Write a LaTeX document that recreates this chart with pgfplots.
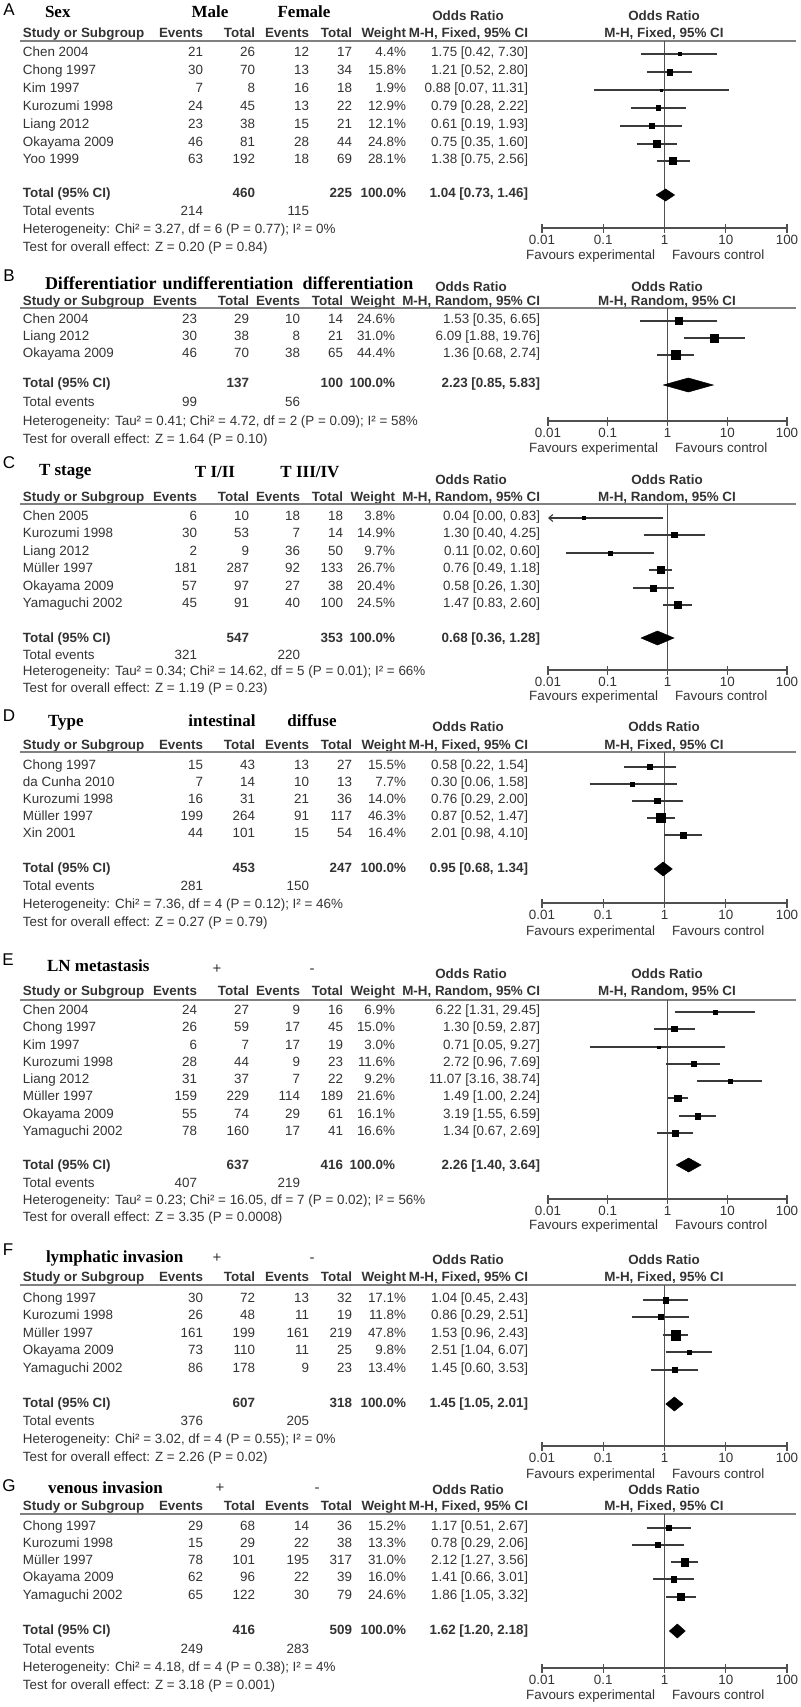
\documentclass[border=0pt]{standalone}
\usepackage{fontspec}
\setmainfont{Liberation Sans}
\newfontfamily\tnr{Liberation Serif}
\usepackage{pgfplots}
\pgfplotsset{compat=1.18}
\usetikzlibrary{arrows.meta}

\definecolor{txt}{HTML}{333333}
\definecolor{hlinec}{HTML}{808080}
\definecolor{cicol}{HTML}{3A3A3A}
\definecolor{axgray}{HTML}{505050}

\newcommand{\bodyfont}{\fontsize{13.4}{16}\selectfont}
\newcommand{\titlefont}{\tnr\bfseries\fontsize{17}{20}\selectfont\color{black}}
\newcommand{\titlefontB}{\tnr\bfseries\fontsize{18}{21}\selectfont\color{black}}

\newcommand{\TL}[3]{\node[anchor=mid west] at (#1pt,-#2pt) {#3};}
\newcommand{\TR}[3]{\node[anchor=mid east] at (#1pt,-#2pt) {#3};}
\newcommand{\TC}[3]{\node[anchor=mid] at (#1pt,-#2pt) {#3};}
\newcommand{\LET}[3]{\node[anchor=mid,text=black,font=\fontsize{17}{20}\selectfont] at (#1pt,-#2pt) {#3};}

\newcommand{\Row}[8]{\TL{23}{#1}{#2}\TR{\cEa}{#1}{#3}\TR{\cTa}{#1}{#4}\TR{\cEb}{#1}{#5}\TR{\cTb}{#1}{#6}\TR{\cW}{#1}{#7}\TR{\cOR}{#1}{#8}}
\newcommand{\Header}[3]{\TL{23}{#1}{\bfseries Study or Subgroup}\TR{\cEa}{#1}{\bfseries Events}\TR{\cTa}{#1}{\bfseries Total}\TR{\cEb}{#1}{\bfseries Events}\TR{\cTb}{#1}{\bfseries Total}\TR{\cW}{#1}{\bfseries Weight}\TR{\cOR}{#1}{\bfseries #2}\TC{#3}{#1}{\bfseries #2}}
\newcommand{\TotalRow}[4]{\TL{23}{#1}{\bfseries Total (95\% CI)}\TR{\cTa}{#1}{\bfseries #2}\TR{\cTb}{#1}{\bfseries #3}\TR{\cW}{#1}{\bfseries 100.0\%}\TR{\cOR}{#1}{\bfseries #4}}
\newcommand{\TotEv}[3]{\TL{23}{#1}{Total events}\TR{\cEa}{#1}{#2}\TR{\cEb}{#1}{#3}}
\newcommand{\HLine}[1]{\draw[hlinec, line width=1.8pt] (20pt,-#1pt) -- (796pt,-#1pt);}
\newcommand{\FixedCols}{\def\cEa{203}\def\cTa{255}\def\cEb{309}\def\cTb{352}\def\cW{406}\def\cOR{528}}
\newcommand{\RandomCols}{\def\cEa{197}\def\cTa{249}\def\cEb{300}\def\cTb{343}\def\cW{395}\def\cOR{540}}

\pgfplotsset{
 myforest/.style={
  scale only axis, anchor=south west, clip=false,
  xmin=0.01, xmax=100,
  axis x line=bottom, axis y line=none,
  x axis line style={-, draw=axgray, line width=1.1pt},
  xtick={0.01,0.1,1,10,100}, xticklabels={0.01,0.1,1,10,100},
  xminorticks=false,
  xtick align=center, major tick length=9pt,
  every tick/.style={draw=axgray, line width=1.1pt},
  xticklabel shift=3pt,
  xticklabel style={anchor=north, inner sep=0pt, font=\bodyfont, text=txt},
 },
 vline/.style={draw=axgray, line width=1pt, mark=none, forget plot},
 ciline/.style={draw=cicol, line width=1.1pt, mark=none, forget plot},
 sq/.style={only marks, mark=square*, scatter, forget plot,
  scatter/use mapped color={draw=black, fill=black},
  visualization depends on={0.68*sqrt(\thisrow{w}) \as \ms},
  scatter/@pre marker code/.append style={/tikz/mark size=\ms}},
 dia/.style={fill=black, draw=black, line width=0.5pt, mark=none, forget plot},
}

\begin{document}
\begin{tikzpicture}[every node/.style={inner sep=0pt, outer sep=0pt, text=txt, font=\bodyfont}]
\useasboundingbox (0,0) rectangle (800pt,-1707pt);

%================ A =================
\FixedCols
\LET{9}{13}{A}
\TL{45}{15}{\titlefont Sex}
\TC{210}{15}{\titlefont Male}
\TC{304}{15}{\titlefont Female}
\TC{468}{18}{\bfseries Odds Ratio}
\TC{664}{18}{\bfseries Odds Ratio}
\Header{35}{M-H, Fixed, 95\% CI}{664}
\HLine{41}
\Row{54}{Chen 2004}{21}{26}{12}{17}{4.4\%}{1.75 [0.42, 7.30]}
\Row{72}{Chong 1997}{30}{70}{13}{34}{15.8\%}{1.21 [0.52, 2.80]}
\Row{90}{Kim 1997}{7}{8}{16}{18}{1.9\%}{0.88 [0.07, 11.31]}
\Row{108}{Kurozumi 1998}{24}{45}{13}{22}{12.9\%}{0.79 [0.28, 2.22]}
\Row{126}{Liang 2012}{23}{38}{15}{21}{12.1\%}{0.61 [0.19, 1.93]}
\Row{144}{Okayama 2009}{46}{81}{28}{44}{24.8\%}{0.75 [0.35, 1.60]}
\Row{161}{Yoo 1999}{63}{192}{18}{69}{28.1\%}{1.38 [0.75, 2.56]}
\TotalRow{195}{460}{225}{1.04 [0.73, 1.46]}
\TotEv{213}{214}{115}
\TL{23}{231}{Heterogeneity: Chi² = 3.27, df = 6 (P = 0.77); I² = 0\%}
\TL{23}{249}{Test for overall effect: Z = 0.20 (P = 0.84)}
\TR{655}{257}{Favours experimental}
\TL{672}{257}{Favours control}
\begin{semilogxaxis}[myforest, at={(542pt,-228pt)}, width=245pt, height=187pt, ymin=-228, ymax=-41]
\addplot[vline] coordinates {(1,-228) (1,-41)};
\addplot[ciline] coordinates {(0.42,-54) (7.30,-54)};
\addplot[ciline] coordinates {(0.52,-72) (2.80,-72)};
\addplot[ciline] coordinates {(0.07,-90) (11.31,-90)};
\addplot[ciline] coordinates {(0.28,-108) (2.22,-108)};
\addplot[ciline] coordinates {(0.19,-126) (1.93,-126)};
\addplot[ciline] coordinates {(0.35,-144) (1.60,-144)};
\addplot[ciline] coordinates {(0.75,-161) (2.56,-161)};
\addplot[sq] table[row sep=\\, x=or, y=y] {or y w\\ 1.75 -54 4.4\\ 1.21 -72 15.8\\ 0.88 -90 1.9\\ 0.79 -108 12.9\\ 0.61 -126 12.1\\ 0.75 -144 24.8\\ 1.38 -161 28.1\\};
\addplot[dia] coordinates {(0.73,-195) (1.04,-189) (1.46,-195) (1.04,-201) (0.73,-195)};
\end{semilogxaxis}

%================ B =================
\RandomCols
\LET{9}{279}{B}
\TL{45}{287}{\titlefontB Differentiatior}
\TC{228}{287}{\titlefontB undifferentiation}
\TC{358}{287}{\titlefontB differentiation}
\TC{471}{289}{\bfseries Odds Ratio}
\TC{667}{289}{\bfseries Odds Ratio}
\Header{303}{M-H, Random, 95\% CI}{667}
\HLine{308}
\Row{321}{Chen 2004}{23}{29}{10}{14}{24.6\%}{1.53 [0.35, 6.65]}
\Row{338}{Liang 2012}{30}{38}{8}{21}{31.0\%}{6.09 [1.88, 19.76]}
\Row{355}{Okayama 2009}{46}{70}{38}{65}{44.4\%}{1.36 [0.68, 2.74]}
\TotalRow{385}{137}{100}{2.23 [0.85, 5.83]}
\TotEv{404}{99}{56}
\TL{23}{423}{Heterogeneity: Tau² = 0.41; Chi² = 4.72, df = 2 (P = 0.09); I² = 58\%}
\TL{23}{441}{Test for overall effect: Z = 1.64 (P = 0.10)}
\TR{658}{450}{Favours experimental}
\TL{675}{450}{Favours control}
\begin{semilogxaxis}[myforest, at={(548pt,-421pt)}, width=239pt, height=113pt, ymin=-421, ymax=-308]
\addplot[vline] coordinates {(1,-421) (1,-308)};
\addplot[ciline] coordinates {(0.35,-321) (6.65,-321)};
\addplot[ciline] coordinates {(1.88,-338) (19.76,-338)};
\addplot[ciline] coordinates {(0.68,-355) (2.74,-355)};
\addplot[sq] table[row sep=\\, x=or, y=y] {or y w\\ 1.53 -321 24.6\\ 6.09 -338 31.0\\ 1.36 -355 44.4\\};
\addplot[dia] coordinates {(0.85,-385) (2.23,-378) (5.83,-385) (2.23,-392) (0.85,-385)};
\end{semilogxaxis}

%================ C =================
\RandomCols
\LET{9}{466}{C}
\TL{39}{473}{\titlefont T stage}
\TC{215}{475}{\titlefont T I/II}
\TC{310}{475}{\titlefont T III/IV}
\TC{471}{482}{\bfseries Odds Ratio}
\TC{667}{482}{\bfseries Odds Ratio}
\Header{499}{M-H, Random, 95\% CI}{667}
\HLine{504}
\Row{518}{Chen 2005}{6}{10}{18}{18}{3.8\%}{0.04 [0.00, 0.83]}
\Row{535}{Kurozumi 1998}{30}{53}{7}{14}{14.9\%}{1.30 [0.40, 4.25]}
\Row{553}{Liang 2012}{2}{9}{36}{50}{9.7\%}{0.11 [0.02, 0.60]}
\Row{570}{Müller 1997}{181}{287}{92}{133}{26.7\%}{0.76 [0.49, 1.18]}
\Row{588}{Okayama 2009}{57}{97}{27}{38}{20.4\%}{0.58 [0.26, 1.30]}
\Row{605}{Yamaguchi 2002}{45}{91}{40}{100}{24.5\%}{1.47 [0.83, 2.60]}
\TotalRow{640}{547}{353}{0.68 [0.36, 1.28]}
\TotEv{657}{321}{220}
\TL{23}{673}{Heterogeneity: Tau² = 0.34; Chi² = 14.62, df = 5 (P = 0.01); I² = 66\%}
\TL{23}{690}{Test for overall effect: Z = 1.19 (P = 0.23)}
\TR{658}{698}{Favours experimental}
\TL{675}{698}{Favours control}
\begin{semilogxaxis}[myforest, at={(548pt,-670pt)}, width=239pt, height=166pt, ymin=-670, ymax=-504]
\addplot[vline] coordinates {(1,-670) (1,-504)};
\addplot[ciline, {Straight Barb[length=4pt,width=7pt]}-] coordinates {(0.01,-518) (0.83,-518)};
\addplot[ciline] coordinates {(0.40,-535) (4.25,-535)};
\addplot[ciline] coordinates {(0.02,-553) (0.60,-553)};
\addplot[ciline] coordinates {(0.49,-570) (1.18,-570)};
\addplot[ciline] coordinates {(0.26,-588) (1.30,-588)};
\addplot[ciline] coordinates {(0.83,-605) (2.60,-605)};
\addplot[sq] table[row sep=\\, x=or, y=y] {or y w\\ 0.04 -518 3.8\\ 1.30 -535 14.9\\ 0.11 -553 9.7\\ 0.76 -570 26.7\\ 0.58 -588 20.4\\ 1.47 -605 24.5\\};
\addplot[dia] coordinates {(0.36,-638) (0.68,-631) (1.28,-638) (0.68,-645) (0.36,-638)};
\end{semilogxaxis}

%================ D =================
\FixedCols
\LET{9}{719}{D}
\TL{48}{724}{\titlefont Type}
\TC{222}{724}{\titlefont intestinal}
\TC{312}{724}{\titlefont diffuse}
\TC{468}{729}{\bfseries Odds Ratio}
\TC{664}{729}{\bfseries Odds Ratio}
\Header{747}{M-H, Fixed, 95\% CI}{664}
\HLine{752}
\Row{767}{Chong 1997}{15}{43}{13}{27}{15.5\%}{0.58 [0.22, 1.54]}
\Row{784}{da Cunha 2010}{7}{14}{10}{13}{7.7\%}{0.30 [0.06, 1.58]}
\Row{801}{Kurozumi 1998}{16}{31}{21}{36}{14.0\%}{0.76 [0.29, 2.00]}
\Row{818}{Müller 1997}{199}{264}{91}{117}{46.3\%}{0.87 [0.52, 1.47]}
\Row{835}{Xin 2001}{44}{101}{15}{54}{16.4\%}{2.01 [0.98, 4.10]}
\TotalRow{870}{453}{247}{0.95 [0.68, 1.34]}
\TotEv{888}{281}{150}
\TL{23}{906}{Heterogeneity: Chi² = 7.36, df = 4 (P = 0.12); I² = 46\%}
\TL{23}{924}{Test for overall effect: Z = 0.27 (P = 0.79)}
\TR{655}{933}{Favours experimental}
\TL{672}{933}{Favours control}
\begin{semilogxaxis}[myforest, at={(542pt,-903pt)}, width=245pt, height=151pt, ymin=-903, ymax=-752]
\addplot[vline] coordinates {(1,-903) (1,-752)};
\addplot[ciline] coordinates {(0.22,-767) (1.54,-767)};
\addplot[ciline] coordinates {(0.06,-784) (1.58,-784)};
\addplot[ciline] coordinates {(0.29,-801) (2.00,-801)};
\addplot[ciline] coordinates {(0.52,-818) (1.47,-818)};
\addplot[ciline] coordinates {(0.98,-835) (4.10,-835)};
\addplot[sq] table[row sep=\\, x=or, y=y] {or y w\\ 0.58 -767 15.5\\ 0.30 -784 7.7\\ 0.76 -801 14.0\\ 0.87 -818 46.3\\ 2.01 -835 16.4\\};
\addplot[dia] coordinates {(0.68,-869) (0.95,-862) (1.34,-869) (0.95,-876) (0.68,-869)};
\end{semilogxaxis}

%================ E =================
\RandomCols
\LET{8}{963}{E}
\TL{47}{969}{\titlefont LN metastasis}
\TC{217}{971}{\fontsize{15}{18}\selectfont +}
\TC{312}{971}{\fontsize{15}{18}\selectfont -}
\TC{471}{976}{\bfseries Odds Ratio}
\TC{667}{976}{\bfseries Odds Ratio}
\Header{993}{M-H, Random, 95\% CI}{667}
\HLine{1000}
\Row{1012}{Chen 2004}{24}{27}{9}{16}{6.9\%}{6.22 [1.31, 29.45]}
\Row{1029}{Chong 1997}{26}{59}{17}{45}{15.0\%}{1.30 [0.59, 2.87]}
\Row{1047}{Kim 1997}{6}{7}{17}{19}{3.0\%}{0.71 [0.05, 9.27]}
\Row{1064}{Kurozumi 1998}{28}{44}{9}{23}{11.6\%}{2.72 [0.96, 7.69]}
\Row{1081}{Liang 2012}{31}{37}{7}{22}{9.2\%}{11.07 [3.16, 38.74]}
\Row{1098}{Müller 1997}{159}{229}{114}{189}{21.6\%}{1.49 [1.00, 2.24]}
\Row{1116}{Okayama 2009}{55}{74}{29}{61}{16.1\%}{3.19 [1.55, 6.59]}
\Row{1133}{Yamaguchi 2002}{78}{160}{17}{41}{16.6\%}{1.34 [0.67, 2.69]}
\TotalRow{1167}{637}{416}{2.26 [1.40, 3.64]}
\TotEv{1185}{407}{219}
\TL{23}{1202}{Heterogeneity: Tau² = 0.23; Chi² = 16.05, df = 7 (P = 0.02); I² = 56\%}
\TL{23}{1219}{Test for overall effect: Z = 3.35 (P = 0.0008)}
\TR{658}{1227}{Favours experimental}
\TL{675}{1227}{Favours control}
\begin{semilogxaxis}[myforest, at={(548pt,-1199pt)}, width=239pt, height=199pt, ymin=-1199, ymax=-1000]
\addplot[vline] coordinates {(1,-1199) (1,-1000)};
\addplot[ciline] coordinates {(1.31,-1012) (29.45,-1012)};
\addplot[ciline] coordinates {(0.59,-1029) (2.87,-1029)};
\addplot[ciline] coordinates {(0.05,-1047) (9.27,-1047)};
\addplot[ciline] coordinates {(0.96,-1064) (7.69,-1064)};
\addplot[ciline] coordinates {(3.16,-1081) (38.74,-1081)};
\addplot[ciline] coordinates {(1.00,-1098) (2.24,-1098)};
\addplot[ciline] coordinates {(1.55,-1116) (6.59,-1116)};
\addplot[ciline] coordinates {(0.67,-1133) (2.69,-1133)};
\addplot[sq] table[row sep=\\, x=or, y=y] {or y w\\ 6.22 -1012 6.9\\ 1.30 -1029 15.0\\ 0.71 -1047 3.0\\ 2.72 -1064 11.6\\ 11.07 -1081 9.2\\ 1.49 -1098 21.6\\ 3.19 -1116 16.1\\ 1.34 -1133 16.6\\};
\addplot[dia] coordinates {(1.40,-1165) (2.26,-1158) (3.64,-1165) (2.26,-1172) (1.40,-1165)};
\end{semilogxaxis}

%================ F =================
\FixedCols
\LET{8}{1253}{F}
\TL{46}{1260}{\titlefont lymphatic invasion}
\TC{217}{1260}{\fontsize{15}{18}\selectfont +}
\TC{312}{1260}{\fontsize{15}{18}\selectfont -}
\TC{468}{1262}{\bfseries Odds Ratio}
\TC{664}{1262}{\bfseries Odds Ratio}
\Header{1279}{M-H, Fixed, 95\% CI}{664}
\HLine{1285}
\Row{1300}{Chong 1997}{30}{72}{13}{32}{17.1\%}{1.04 [0.45, 2.43]}
\Row{1317}{Kurozumi 1998}{26}{48}{11}{19}{11.8\%}{0.86 [0.29, 2.51]}
\Row{1335}{Müller 1997}{161}{199}{161}{219}{47.8\%}{1.53 [0.96, 2.43]}
\Row{1352}{Okayama 2009}{73}{110}{11}{25}{9.8\%}{2.51 [1.04, 6.07]}
\Row{1370}{Yamaguchi 2002}{86}{178}{9}{23}{13.4\%}{1.45 [0.60, 3.53]}
\TotalRow{1405}{607}{318}{1.45 [1.05, 2.01]}
\TotEv{1423}{376}{205}
\TL{23}{1441}{Heterogeneity: Chi² = 3.02, df = 4 (P = 0.55); I² = 0\%}
\TL{23}{1459}{Test for overall effect: Z = 2.26 (P = 0.02)}
\TR{655}{1476}{Favours experimental}
\TL{672}{1476}{Favours control}
\begin{semilogxaxis}[myforest, at={(542pt,-1446pt)}, width=245pt, height=161pt, ymin=-1446, ymax=-1285]
\addplot[vline] coordinates {(1,-1446) (1,-1285)};
\addplot[ciline] coordinates {(0.45,-1300) (2.43,-1300)};
\addplot[ciline] coordinates {(0.29,-1317) (2.51,-1317)};
\addplot[ciline] coordinates {(0.96,-1335) (2.43,-1335)};
\addplot[ciline] coordinates {(1.04,-1352) (6.07,-1352)};
\addplot[ciline] coordinates {(0.60,-1370) (3.53,-1370)};
\addplot[sq] table[row sep=\\, x=or, y=y] {or y w\\ 1.04 -1300 17.1\\ 0.86 -1317 11.8\\ 1.53 -1335 47.8\\ 2.51 -1352 9.8\\ 1.45 -1370 13.4\\};
\addplot[dia] coordinates {(1.05,-1404) (1.45,-1397) (2.01,-1404) (1.45,-1411) (1.05,-1404)};
\end{semilogxaxis}

%================ G =================
\FixedCols
\LET{9}{1489}{G}
\TL{48}{1491}{\titlefont venous invasion}
\TC{220}{1490}{\fontsize{15}{18}\selectfont +}
\TC{317}{1490}{\fontsize{15}{18}\selectfont -}
\TC{468}{1492}{\bfseries Odds Ratio}
\TC{664}{1492}{\bfseries Odds Ratio}
\Header{1508}{M-H, Fixed, 95\% CI}{664}
\HLine{1514}
\Row{1528}{Chong 1997}{29}{68}{14}{36}{15.2\%}{1.17 [0.51, 2.67]}
\Row{1545}{Kurozumi 1998}{15}{29}{22}{38}{13.3\%}{0.78 [0.29, 2.06]}
\Row{1562}{Müller 1997}{78}{101}{195}{317}{31.0\%}{2.12 [1.27, 3.56]}
\Row{1579}{Okayama 2009}{62}{96}{22}{39}{16.0\%}{1.41 [0.66, 3.01]}
\Row{1597}{Yamaguchi 2002}{65}{122}{30}{79}{24.6\%}{1.86 [1.05, 3.32]}
\TotalRow{1632}{416}{509}{1.62 [1.20, 2.18]}
\TotEv{1651}{249}{283}
\TL{23}{1669}{Heterogeneity: Chi² = 4.18, df = 4 (P = 0.38); I² = 4\%}
\TL{23}{1687}{Test for overall effect: Z = 3.18 (P = 0.001)}
\TR{655}{1697}{Favours experimental}
\TL{672}{1697}{Favours control}
\begin{semilogxaxis}[myforest, at={(542pt,-1668pt)}, width=245pt, height=154pt, ymin=-1668, ymax=-1514]
\addplot[vline] coordinates {(1,-1668) (1,-1514)};
\addplot[ciline] coordinates {(0.51,-1528) (2.67,-1528)};
\addplot[ciline] coordinates {(0.29,-1545) (2.06,-1545)};
\addplot[ciline] coordinates {(1.27,-1562) (3.56,-1562)};
\addplot[ciline] coordinates {(0.66,-1579) (3.01,-1579)};
\addplot[ciline] coordinates {(1.05,-1597) (3.32,-1597)};
\addplot[sq] table[row sep=\\, x=or, y=y] {or y w\\ 1.17 -1528 15.2\\ 0.78 -1545 13.3\\ 2.12 -1562 31.0\\ 1.41 -1579 16.0\\ 1.86 -1597 24.6\\};
\addplot[dia] coordinates {(1.20,-1631) (1.62,-1624) (2.18,-1631) (1.62,-1638) (1.20,-1631)};
\end{semilogxaxis}

\end{tikzpicture}
\end{document}
